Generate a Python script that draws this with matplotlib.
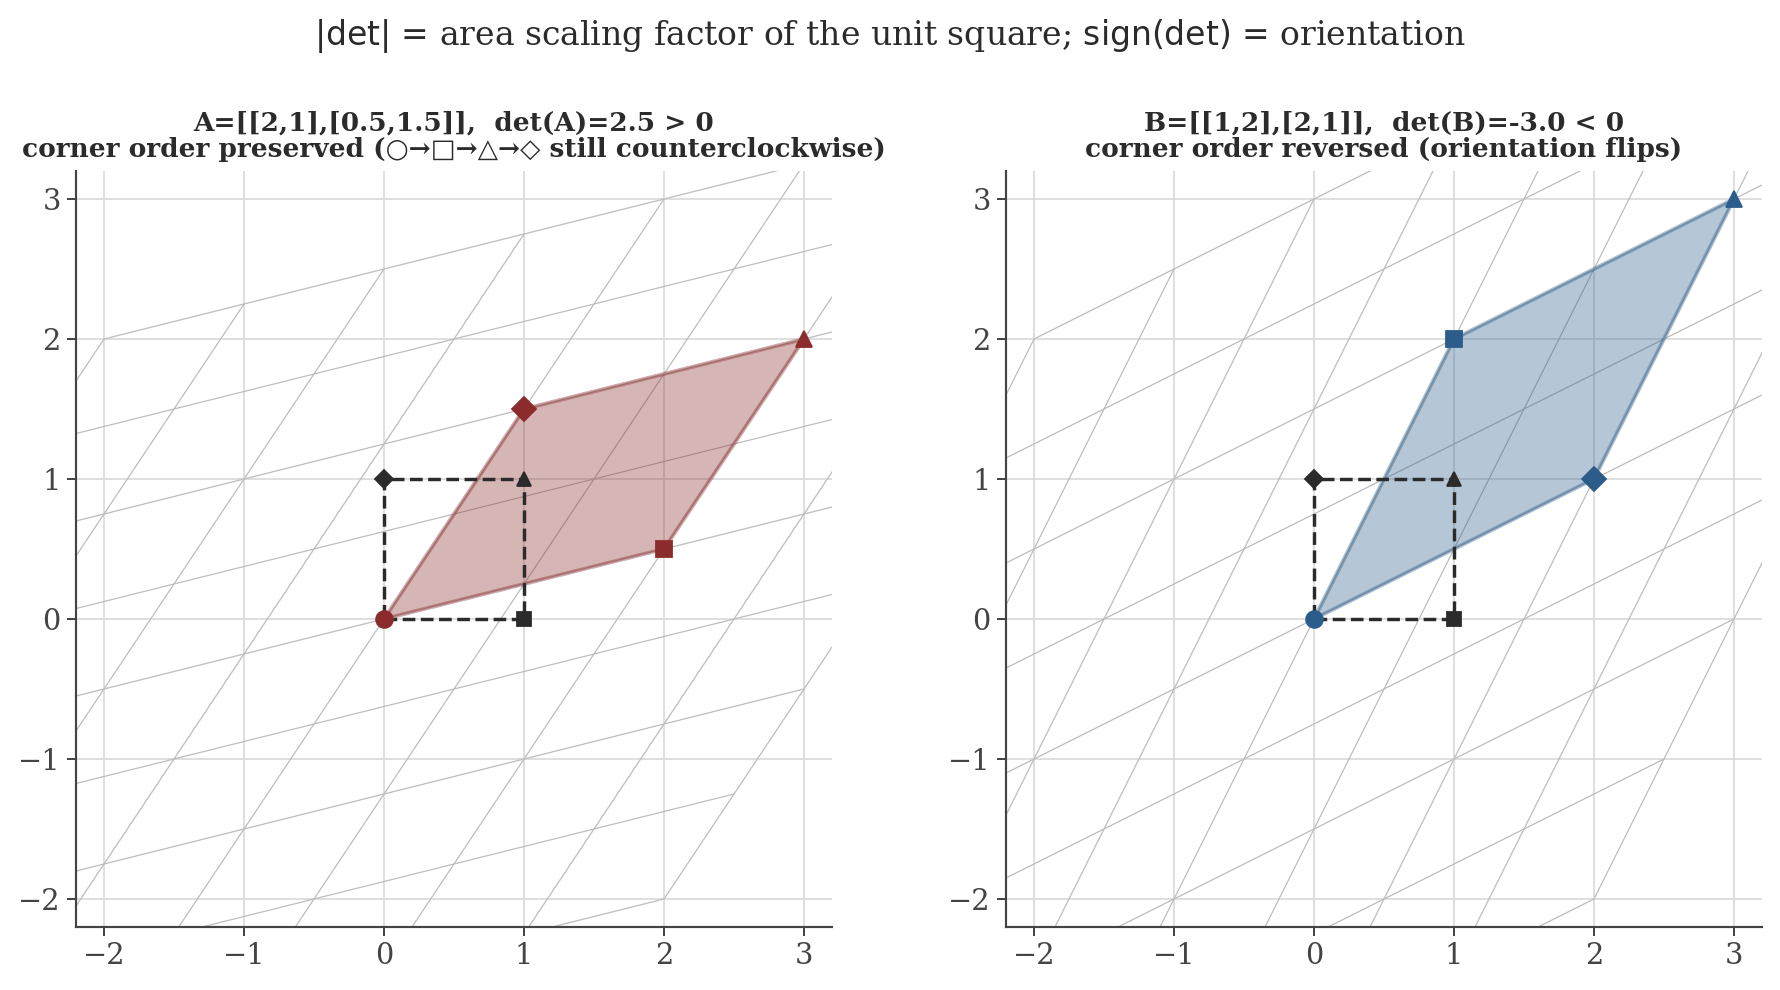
import numpy as np
import matplotlib
matplotlib.use("Agg")
from matplotlib import pyplot as plt
import seaborn as sns

sns.set_style("ticks", {"axes.grid": True})
plt.rcParams['font.family'] = ['DejaVu Serif', 'DejaVu Sans']

# matrices shown in the two panels
mat_A = [[2, 1], [0.5, 1.5]]
mat_B = [[1, 2], [2, 1]]
colors = ["#8b2b2b", "#2c5d8a"]
titles = ["A=[[2,1],[0.5,1.5]],  det(A)=2.5 > 0\ncorner order preserved (○→□→△→◇ still counterclockwise)",
          "B=[[1,2],[2,1]],  det(B)=-3.0 < 0\ncorner order reversed (orientation flips)"]

# unit square corners, in the order circle -> square -> triangle -> diamond
corners_x = [0, 1, 1, 0]
corners_y = [0, 0, 1, 1]
corner_markers = ["o", "s", "^", "D"]

# original grid [-2, 2] x [-2, 2] in half steps, mapped through the matrix
grid_k = [-2, -1.5, -1, -0.5, 0, 0.5, 1, 1.5, 2]
grid_span = [-2, 2]
ticks = [-2, -1, 0, 1, 2, 3]
lim = (-2.2, 3.2)

DPI = 130
fig = plt.figure(figsize=(1780 / DPI, 990 / DPI), dpi=DPI)
ax_left = fig.add_axes([76 / 1780, 63 / 990, 756 / 1780, 756 / 990])
ax_right = fig.add_axes([1006 / 1780, 63 / 990, 756 / 1780, 756 / 990])


def draw_panel(ax, M, col, title):
    M = np.array(M, dtype=float)
    t = np.array(grid_span, dtype=float)
    for k in grid_k:
        vert = M @ np.vstack([np.full_like(t, k), t])
        horiz = M @ np.vstack([t, np.full_like(t, k)])
        ax.plot(vert[0], vert[1], color="#bdbdbd", lw=0.7, zorder=1)
        ax.plot(horiz[0], horiz[1], color="#bdbdbd", lw=0.7, zorder=1)

    # original unit square
    sq = np.array([corners_x + [corners_x[0]], corners_y + [corners_y[0]]], dtype=float)
    ax.plot(sq[0], sq[1], ls="--", color="#2b2b2b", lw=1.9, zorder=3)
    for cx, cy, m in zip(corners_x, corners_y, corner_markers):
        ax.plot(cx, cy, marker=m, color="#2b2b2b", ms=7.3 if m != "D" else 7, zorder=4)

    # transformed square
    img = M @ np.array([corners_x, corners_y], dtype=float)
    ax.fill(img[0], img[1], color=col, alpha=0.35, lw=0, zorder=2)
    ax.plot(np.append(img[0], img[0][0]), np.append(img[1], img[1][0]),
            color=col, alpha=0.4, lw=2.2, zorder=2)
    for px, py, m in zip(img[0], img[1], corner_markers):
        ax.plot(px, py, marker=m, color=col, ms=9.3 if m != "D" else 9.3, zorder=5)

    ax.set_xlim(*lim)
    ax.set_ylim(*lim)
    ax.set_xticks(ticks)
    ax.set_yticks(ticks)
    ax.set_aspect("equal")
    ax.grid(True, color="#dcdcdc", lw=1.0)
    ax.tick_params(labelsize=16, colors="#444444", length=5, width=1.1)
    for s in ["left", "bottom"]:
        ax.spines[s].set_color("#444444")
        ax.spines[s].set_linewidth(1.2)
    sns.despine(ax=ax)
    ax.set_title(title, fontsize=14.6, fontweight="bold", color="#2b2b2b", pad=8,
                 linespacing=1.05)


draw_panel(ax_left, mat_A, colors[0], titles[0])
draw_panel(ax_right, mat_B, colors[1], titles[1])

fig.suptitle(r"$|\det|$ = area scaling factor of the unit square; $\mathrm{sign}(\det)$ = orientation",
             fontsize=18.3, color="#2b2b2b", y=0.964, va="center")

plt.savefig("out.png", dpi=DPI)
